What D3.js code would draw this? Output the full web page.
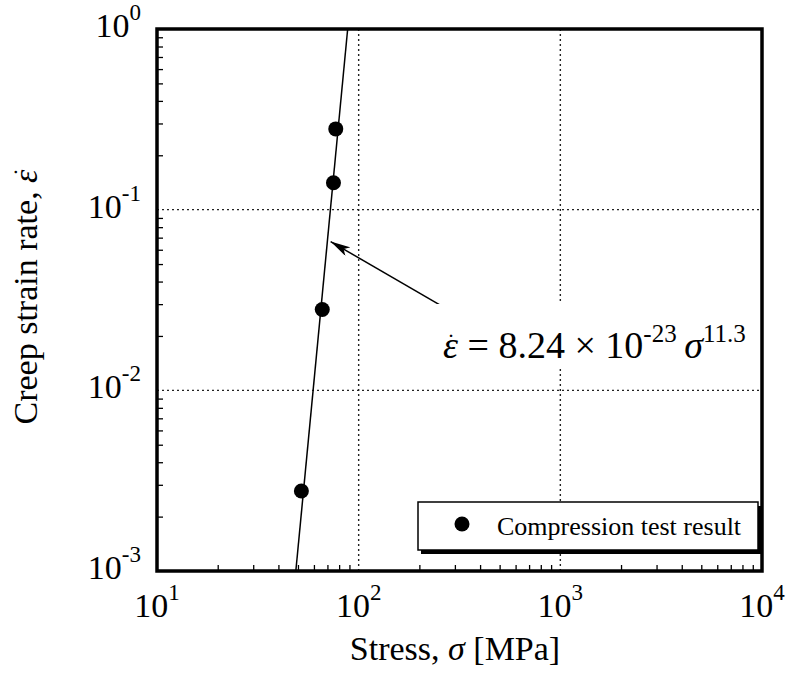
<!DOCTYPE html>
<html>
<head>
<meta charset="utf-8">
<script src="https://cdn.jsdelivr.net/npm/d3@7"></script>
<style>
  body { margin: 0; background: #fff; }
  svg text { font-family: "Liberation Serif", "Times New Roman", serif; fill: #000; }
</style>
</head>
<body>
<svg id="chart" width="786" height="674"></svg>
<script>
// data
var stress = [77, 75, 66, 52];            // MPa
var strainRate = [0.28, 0.141, 0.028, 0.00277];
// fitted power law, end points where it leaves the frame
var fitStress = [48.8, 88.2];
var fitRate = [0.001, 1];
// annotation arrow (tail, head) in data units
var arrowStress = [255, 72.6];
var arrowRate = [0.0295, 0.0666];
var xMajor = [10, 100, 1000, 10000];
var xExp = ["1", "2", "3", "4"];
var yMajor = [1, 0.1, 0.01, 0.001];
var yExp = ["0", "-1", "-2", "-3"];

var svg = d3.select("#chart");
var pLeft = 157, pRight = 762, pTop = 29, pBottom = 571;

var x = d3.scaleLog().domain([10, 10000]).range([pLeft, pRight]);
var y = d3.scaleLog().domain([0.001, 1]).range([pBottom, pTop]);

// minor tick values
var xMinor = [], yMinor = [];
[10, 100, 1000].forEach(function(d) {
  for (var k = 2; k < 10; k++) xMinor.push(d * k);
});
[0.001, 0.01, 0.1].forEach(function(d) {
  for (var k = 2; k < 10; k++) yMinor.push(d * k);
});

// grid, dotted
var grid = svg.append("g").attr("stroke", "#222").attr("stroke-width", 1.4)
  .attr("stroke-dasharray", "2,3");
grid.selectAll(".gx").data([100, 1000]).enter().append("line")
  .attr("x1", x).attr("x2", x).attr("y1", pTop).attr("y2", pBottom);
grid.selectAll(".gy").data([0.1, 0.01]).enter().append("line")
  .attr("y1", y).attr("y2", y).attr("x1", pLeft).attr("x2", pRight);

// inward ticks on bottom and left
svg.append("g").attr("transform", "translate(0," + pBottom + ")")
  .call(d3.axisBottom(x).tickValues(xMinor).tickSize(-6).tickFormat(""))
  .call(function(g) { g.select(".domain").remove(); })
  .selectAll("line").attr("stroke-width", 1.3);
svg.append("g").attr("transform", "translate(" + pLeft + ",0)")
  .call(d3.axisLeft(y).tickValues(yMinor).tickSize(-6).tickFormat(""))
  .call(function(g) { g.select(".domain").remove(); })
  .selectAll("line").attr("stroke-width", 1.3);

// fit line
var line = d3.line().x(function(d) { return x(d[0]); }).y(function(d) { return y(d[1]); });
svg.append("path")
  .datum(d3.zip(fitStress, fitRate))
  .attr("d", line)
  .attr("fill", "none").attr("stroke", "#000").attr("stroke-width", 1.5);

// points
svg.selectAll(".pt").data(d3.zip(stress, strainRate)).enter().append("circle")
  .attr("cx", function(d) { return x(d[0]); })
  .attr("cy", function(d) { return y(d[1]); })
  .attr("r", 7.5).attr("fill", "#000");

// arrow
svg.append("defs").append("marker")
  .attr("id", "head").attr("viewBox", "0 0 20 10")
  .attr("refX", 20).attr("refY", 5)
  .attr("markerWidth", 20).attr("markerHeight", 10)
  .attr("markerUnits", "userSpaceOnUse").attr("orient", "auto")
  .append("path").attr("d", "M0,0L20,5L0,10L5,5Z").attr("fill", "#000");
svg.append("line")
  .attr("x1", x(arrowStress[0])).attr("y1", y(arrowRate[0]))
  .attr("x2", x(arrowStress[1])).attr("y2", y(arrowRate[1]))
  .attr("stroke", "#000").attr("stroke-width", 1.5)
  .attr("marker-end", "url(#head)");

// equation with white backing
svg.append("rect").attr("x", 432).attr("y", 304).attr("width", 310).attr("height", 64).attr("fill", "#fff");
var eq = svg.append("text").attr("x", 443).attr("y", 358).attr("font-size", 38);
eq.append("tspan").attr("font-style", "italic").text("\u03B5");
eq.append("tspan").text(" = 8.24 \u00D7 10");
eq.append("tspan").attr("font-size", 25).attr("dy", -16).text("-23");
eq.append("tspan").attr("font-style", "italic").attr("dy", 16).text("\u2009\u03C3");
eq.append("tspan").attr("font-size", 25).attr("dy", -16).text("11.3");
// dot over epsilon
svg.append("text").attr("x", 447).attr("y", 350).attr("font-size", 24).text("\u02D9");

// frame
svg.append("rect").attr("x", pLeft).attr("y", pTop)
  .attr("width", pRight - pLeft).attr("height", pBottom - pTop)
  .attr("fill", "none").attr("stroke", "#000").attr("stroke-width", 3.5);

// legend
svg.append("rect").attr("x", 421).attr("y", 506).attr("width", 340).attr("height", 48).attr("fill", "#000");
svg.append("rect").attr("x", 418).attr("y", 502).attr("width", 340).attr("height", 48)
  .attr("fill", "#fff").attr("stroke", "#000").attr("stroke-width", 1.5);
svg.append("circle").attr("cx", 462).attr("cy", 524).attr("r", 7.5).attr("fill", "#000");
svg.append("text").attr("x", 497).attr("y", 535).attr("font-size", 26).text("Compression test result");

// tick labels
xMajor.forEach(function(v, i) {
  var t = svg.append("text").attr("x", x(v)).attr("y", 617)
    .attr("font-size", 34).attr("text-anchor", "middle");
  t.append("tspan").text("10");
  t.append("tspan").attr("font-size", 23).attr("dy", -17).text(xExp[i]);
});
yMajor.forEach(function(v, i) {
  var t = svg.append("text").attr("x", 141).attr("y", y(v) + 8)
    .attr("font-size", 34).attr("text-anchor", "end");
  t.append("tspan").text("10");
  t.append("tspan").attr("font-size", 23).attr("dy", -17).text(yExp[i]);
});

// axis titles
var xt = svg.append("text").attr("x", 455).attr("y", 660)
  .attr("font-size", 34).attr("text-anchor", "middle");
xt.append("tspan").text("Stress, ");
xt.append("tspan").attr("font-style", "italic").text("\u03C3");
xt.append("tspan").text(" [MPa]");

var yt = svg.append("text").attr("transform", "translate(37,297) rotate(-90)")
  .attr("font-size", 34).attr("text-anchor", "middle");
yt.append("tspan").text("Creep strain rate, ");
yt.append("tspan").attr("font-style", "italic").text("\u03B5");
svg.append("text").attr("transform", "translate(30,172) rotate(-90)")
  .attr("font-size", 24).attr("text-anchor", "middle").text("\u02D9");
</script>
</body>
</html>
